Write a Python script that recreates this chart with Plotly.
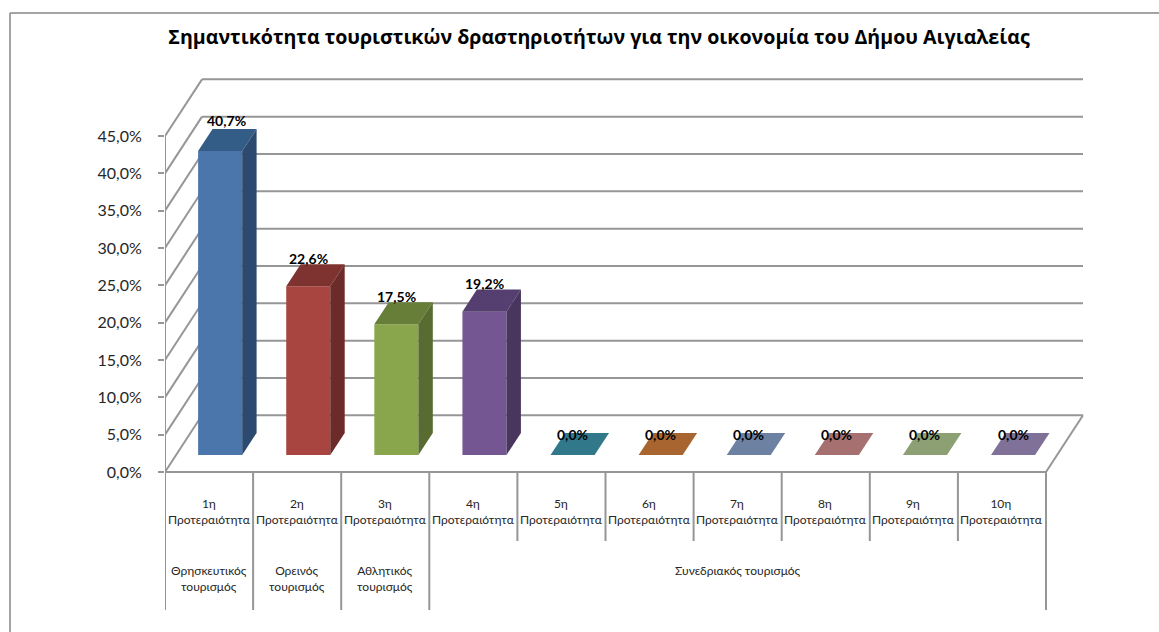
import plotly.graph_objects as go

priorities = ["1η", "2η", "3η", "4η", "5η", "6η", "7η", "8η", "9η", "10η"]
values = [40.7, 22.6, 17.5, 19.2, 0.0, 0.0, 0.0, 0.0, 0.0, 0.0]
value_labels = ["40,7%", "22,6%", "17,5%", "19,2%", "0,0%", "0,0%", "0,0%", "0,0%", "0,0%", "0,0%"]
axis_ticks = [0, 5, 10, 15, 20, 25, 30, 35, 40, 45]
axis_tick_text = ["0,0%", "5,0%", "10,0%", "15,0%", "20,0%", "25,0%", "30,0%", "35,0%", "40,0%", "45,0%"]
group_names = ["Θρησκευτικός<br>τουρισμός", "Ορεινός<br>τουρισμός", "Αθλητικός<br>τουρισμός", "Συνεδριακός τουρισμός"]
group_spans = [(0, 1), (1, 2), (2, 3), (3, 10)]
front_colors = ["#4a76ab", "#a84540", "#8aa64d", "#735692", "#31788b", "#a96530", "#6d81a3", "#a5706f", "#8da073", "#7f7198"]
top_colors = ["#335c87", "#7f3331", "#667e37", "#553f70", "#31788b", "#a96530", "#6d81a3", "#a5706f", "#8da073", "#7f7198"]
side_colors = ["#2c4a70", "#6b2b29", "#586b30", "#48365f", "#31788b", "#a96530", "#6d81a3", "#a5706f", "#8da073", "#7f7198"]

FONT = "Lato, 'Noto Sans', sans-serif"
TITLE_FONT = "'Open Sans', sans-serif"
GRID = "#969696"
W, H = 1159, 632
PX_L, PX_R, PX_T, PX_B, PX_ZERO = 165, 1086, 70, 620, 472
PX_CAT = 88.1
PX_PCT = 37.33 / 5
DEPTH_X, DEPTH_Y = 37 / PX_CAT, 56.7 / PX_PCT
BAR_W, F0, F1 = 0.5, 0.3, 0.69
xr = [0, (PX_R - PX_L) / PX_CAT]
yr = [-(PX_B - PX_ZERO) / PX_PCT, (PX_ZERO - PX_T) / PX_PCT]
py = lambda px: (PX_ZERO - px) / PX_PCT

fig = go.Figure()
lx, ly = [], []
def seg(x0, y0, x1, y1):
    lx.extend([x0, x1, None]); ly.extend([y0, y1, None])

n = len(priorities)
for t in axis_ticks:
    seg(0, t, DEPTH_X, t + DEPTH_Y)
    seg(DEPTH_X, t + DEPTH_Y, n + DEPTH_X, t + DEPTH_Y)
seg(0, 0, 0, axis_ticks[-1])
seg(0, 0, n, 0)
seg(n, 0, n + DEPTH_X, DEPTH_Y)
for k in range(n + 1):
    seg(k, 0, k, py(610) if k <= 3 or k == n else py(541))
fig.add_trace(go.Scatter(x=lx, y=ly, mode="lines", line=dict(color=GRID, width=2),
                         cliponaxis=False, hoverinfo="skip", showlegend=False))

centers = [i + F0 * DEPTH_X + 0.5 for i in range(n)]
base = F0 * DEPTH_Y
fig.add_trace(go.Bar(x=centers, y=values, base=base, width=BAR_W, xaxis="x2", yaxis="y2",
                     marker=dict(color=front_colors, line=dict(width=0)),
                     text=value_labels, textposition="none", showlegend=False))
dxf, dyf = (F1 - F0) * DEPTH_X, (F1 - F0) * DEPTH_Y
for c, v, tc, sc in zip(centers, values, top_colors, side_colors):
    l, r, y0, y1 = c - BAR_W / 2, c + BAR_W / 2, base + v, base
    fig.add_trace(go.Scatter(x=[l, r, r + dxf, l + dxf, l], y=[y0, y0, y0 + dyf, y0 + dyf, y0],
                             mode="lines", fill="toself", fillcolor=tc, line=dict(width=0),
                             xaxis="x2", yaxis="y2", hoverinfo="skip", showlegend=False))
    if v > 0:
        fig.add_trace(go.Scatter(x=[r, r + dxf, r + dxf, r, r], y=[y1, y1 + dyf, y0 + dyf, y0, y1],
                                 mode="lines", fill="toself", fillcolor=sc, line=dict(width=0),
                                 xaxis="x2", yaxis="y2", hoverinfo="skip", showlegend=False))

ann = []
for i, (c, v, s) in enumerate(zip(centers, values, value_labels)):
    ann.append(dict(x=c, y=base + v, xref="x", yref="y", text=f"<b>{s}</b>", showarrow=False,
                    font=dict(family=FONT, size=14, color="#000"),
                    xshift=6 if i == 0 else 0, yshift=31 if i == 0 else (28 if v > 0 else 20)))
    ann.append(dict(x=i + 0.5, y=py(494), xref="x", yref="y", yanchor="top",
                    text=f"{priorities[i]}<br>Προτεραιότητα", showarrow=False,
                    font=dict(family=FONT, size=12, color="#262626")))
for name, (a, b) in zip(group_names, group_spans):
    ann.append(dict(x=(a + b) / 2, y=py(561), xref="x", yref="y", yanchor="top", text=name,
                    showarrow=False, font=dict(family=FONT, size=12, color="#262626")))

frame = [dict(type="line", xref="paper", yref="paper", x0=(10 - PX_L) / (PX_R - PX_L), x1=(10 - PX_L) / (PX_R - PX_L),
              y0=(PX_B - 632) / (PX_B - PX_T), y1=(PX_B - 13) / (PX_B - PX_T), line=dict(color="#868686", width=1.5)),
         dict(type="line", xref="paper", yref="paper", x0=(10 - PX_L) / (PX_R - PX_L), x1=(W - PX_L) / (PX_R - PX_L),
              y0=(PX_B - 13) / (PX_B - PX_T), y1=(PX_B - 13) / (PX_B - PX_T), line=dict(color="#868686", width=1.5))]

fig.update_layout(
    width=W, height=H, autosize=False, plot_bgcolor="white", paper_bgcolor="white",
    margin=dict(l=PX_L, r=W - PX_R, t=PX_T, b=H - PX_B, pad=0),
    showlegend=False, annotations=ann, shapes=frame,
    title=dict(text="<b>Σημαντικότητα τουριστικών δραστηριοτήτων για την οικονομία του Δήμου Αιγιαλείας</b>",
               x=599 / W, xanchor="center", y=1 - 37 / H, yanchor="middle",
               font=dict(family=TITLE_FONT, size=19.6, color="#000")),
    xaxis=dict(range=xr, visible=False, fixedrange=True),
    xaxis2=dict(range=xr, visible=False, overlaying="x", fixedrange=True),
    yaxis=dict(range=yr, tickmode="array", tickvals=axis_ticks, ticktext=axis_tick_text, showgrid=False,
               zeroline=False, showline=False, ticks="outside", ticklen=6, tickwidth=2, tickcolor=GRID,
               ticklabelstandoff=13, tickfont=dict(family=FONT, size=16, color="#262626"), fixedrange=True),
    yaxis2=dict(range=yr, visible=False, overlaying="y", fixedrange=True),
)
fig.write_html("out.html", config={"displayModeBar": False},
               post_script="document.body.style.margin='0';")
